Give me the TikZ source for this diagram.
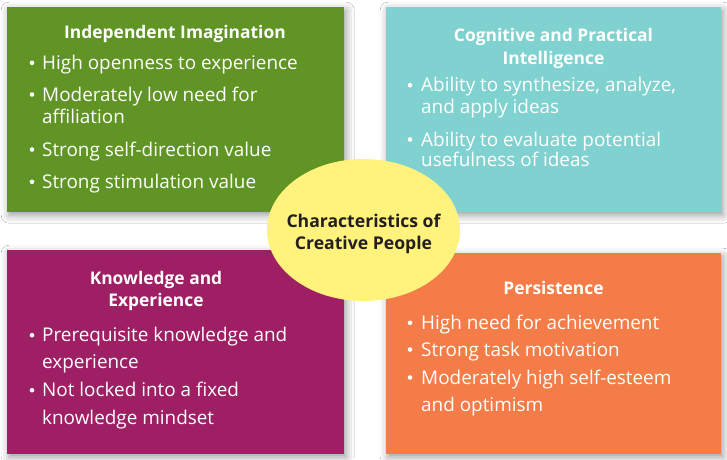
\documentclass[tikz,border=0pt]{standalone}
\usepackage{fontspec}
\setmainfont{Open Sans}
\usetikzlibrary{shapes.geometric,shadows.blur}
\definecolor{cgreen}{HTML}{609425}
\definecolor{cteal}{HTML}{7FD2D0}
\definecolor{cmagenta}{HTML}{9E1F63}
\definecolor{corange}{HTML}{F47C48}
\definecolor{cyellow}{HTML}{FFF27D}
\definecolor{cdark}{HTML}{231F20}
\begin{document}
\begin{tikzpicture}[x=1pt,y=-1pt,
  box/.style={draw=none, inner sep=0, anchor=north west,
    blur shadow={shadow xshift=2pt, shadow yshift=-3pt, shadow blur radius=8pt, shadow opacity=40}},
  ttl/.style={text=white, font=\fontsize{17.4}{20}\selectfont\bfseries, anchor=base, inner sep=0},
  itm/.style={text=white, font=\fontsize{18.9}{22}\selectfont, anchor=base west, inner sep=0},
  dot/.style={circle, fill=white, draw=none, inner sep=0, minimum size=4.6pt},
  ctr/.style={text=cdark, font=\fontsize{17.6}{20}\selectfont\bfseries, anchor=base, inner sep=0}]
\useasboundingbox (0,0) rectangle (727,459);
\fill[white] (0,0) rectangle (727,459);

% boxes
\node[box, fill=cgreen, minimum width=337pt, minimum height=205pt] (bg) at (7,7) {};
\node[box, fill=cteal, minimum width=335pt, minimum height=205pt] (bt) at (386,7) {};
\node[box, fill=cmagenta, minimum width=337pt, minimum height=204pt] (bm) at (7,250) {};
\node[box, fill=corange, minimum width=335pt, minimum height=201pt] (bo) at (386,253) {};

% centre ellipse
\node[ellipse, fill=cyellow, draw=none, inner sep=0, minimum width=193pt, minimum height=142pt] (c) at (363.5,230) {};
\node[ctr] (c1) at (363.5,227) {Characteristics of};
\node[ctr] (c2) at (363.5,249.3) {Creative People};

% green box
\node[ttl] (g0) at (175,38.3) {Independent Imagination};
\node[dot] (gd1) at (32,62.8) {};
\node[itm] (g1) at (42,69.3) {High openness to experience};
\node[dot] (gd2) at (32,94.5) {};
\node[itm] (g2) at (42,101) {Moderately low need for};
\node[itm] (g3) at (42,123.3) {affiliation};
\node[dot] (gd3) at (32,149.5) {};
\node[itm] (g4) at (42,156) {Strong self-direction value};
\node[dot] (gd4) at (32,181.8) {};
\node[itm] (g5) at (42,188.3) {Strong stimulation value};

% teal box
\node[ttl] (t0) at (553.5,41.7) {Cognitive and Practical};
\node[ttl] (t0b) at (553.5,64) {Intelligence};
\node[dot] (td1) at (410,85.2) {};
\node[itm] (t1) at (421,91.7) {Ability to synthesize, analyze,};
\node[itm] (t2) at (421,113.3) {and apply ideas};
\node[dot] (td2) at (410,139.5) {};
\node[itm] (t3) at (421,146) {Ability to evaluate potential};
\node[itm] (t4) at (421,166.7) {usefulness of ideas};

% magenta box
\node[ttl] (m0) at (156,284.3) {Knowledge and};
\node[ttl] (m0b) at (156,306.7) {Experience};
\node[dot] (md1) at (32,335.2) {};
\node[itm] (m1) at (42,341.7) {Prerequisite knowledge and};
\node[itm] (m2) at (42,368.3) {experience};
\node[dot] (md2) at (32,390.2) {};
\node[itm] (m3) at (42,396.7) {Not locked into a fixed};
\node[itm] (m4) at (42,424) {knowledge mindset};

% orange box
\node[ttl] (o0) at (553.5,294) {Persistence};
\node[dot] (od1) at (410,322.8) {};
\node[itm] (o1) at (421,329.3) {High need for achievement};
\node[dot] (od2) at (410,349.5) {};
\node[itm] (o2) at (421,356) {Strong task motivation};
\node[dot] (od3) at (410,377.5) {};
\node[itm] (o3) at (421,384) {Moderately high self-esteem};
\node[itm] (o4) at (421,411) {and optimism};
\end{tikzpicture}
\end{document}
